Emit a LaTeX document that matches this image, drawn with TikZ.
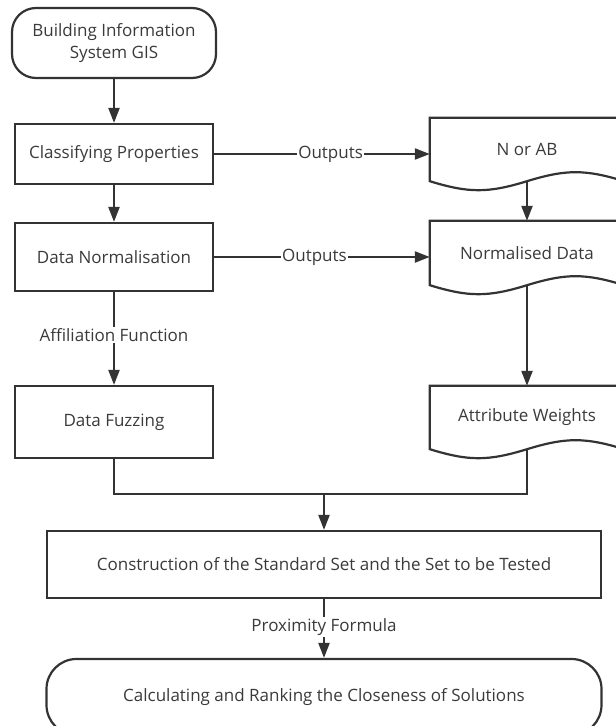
\documentclass[tikz,border=0pt]{standalone}
\usepackage{fontspec}
\setmainfont{Open Sans}
\usetikzlibrary{arrows.meta}
\definecolor{ink}{HTML}{333333}
\definecolor{txt}{HTML}{3a3a3a}
\begin{document}
\begin{tikzpicture}[x=1pt,y=-1pt,
		font=\fontsize{17}{22}\selectfont, text=txt,
		terminal/.style={draw=ink, line width=2.2pt, rounded corners=24pt, minimum width=204pt, minimum height=70pt, align=center},
		process/.style={draw=ink, line width=2.2pt, minimum width=198pt, minimum height=60pt},
		docbox/.style={minimum width=194pt, minimum height=63pt},
		conn/.style={draw=ink, line width=2.2pt},
		arr/.style={conn, -{Triangle[length=15pt,width=11pt]}},
		lbl/.style={fill=white, inner sep=1.5pt}]
				\useasboundingbox (0,0) rectangle (616,726);
				\node [terminal] (gis) at (114,43) {Building Information\\System GIS};
				\node [process] (cls) at (114,154) {Classifying Properties};
				\node [process, minimum height=68pt] (norm) at (114,257) {Data Normalisation};
				\node [process, minimum height=72pt] (fuzz) at (114,422) {Data Fuzzing};
				\node [process, minimum width=554pt, minimum height=67pt] (cons) at (324,564.5) {Construction of the Standard Set and the Set to be Tested};
				\node [terminal, minimum width=555pt, minimum height=76pt, rounded corners=30pt] (rank) at (324,697) {Calculating and Ranking the Closeness of Solutions};
				
				% document shapes on the right
				\node [docbox] (nab) at (527,149.5) {N or AB};
				\node [docbox, minimum height=64pt] (ndat) at (527,253) {Normalised Data};
				\node [docbox] (attr) at (527,417.5) {Attribute Weights};
				\foreach \d in {nab,ndat,attr}
					\draw [conn] (\d.south west) -- (\d.north west) -- (\d.north east) -- (\d.south east)
						.. controls +(-39,-12) and +(39,-12) .. (\d.south)
						.. controls +(-39,12) and +(39,12) .. (\d.south west) -- cycle;
				
				\draw [arr] (gis) -- (cls);
				\draw [arr] (cls) -- (norm);
				\draw [arr] (norm) -- node [lbl, pos=.46] {Affiliation Function} (fuzz);
				\draw [arr] (cls.east) -- node [lbl, pos=.54] {Outputs} (cls.east -| nab.west);
				\draw [arr] (norm.east) -- node [lbl, pos=.465] {Outputs} (norm.east -| ndat.west);
				\draw [arr] (nab.south) -- (ndat);
				\draw [arr] (ndat.south) -- (attr);
				\coordinate (jn) at (324,494);
				\draw [conn] (fuzz.south) |- (jn) -| (attr.south);
				\draw [arr] (jn) -- (cons);
				\draw [arr] (cons) -- node [lbl, pos=.475] {Proximity Formula} (rank);
			\end{tikzpicture}
\end{document}
